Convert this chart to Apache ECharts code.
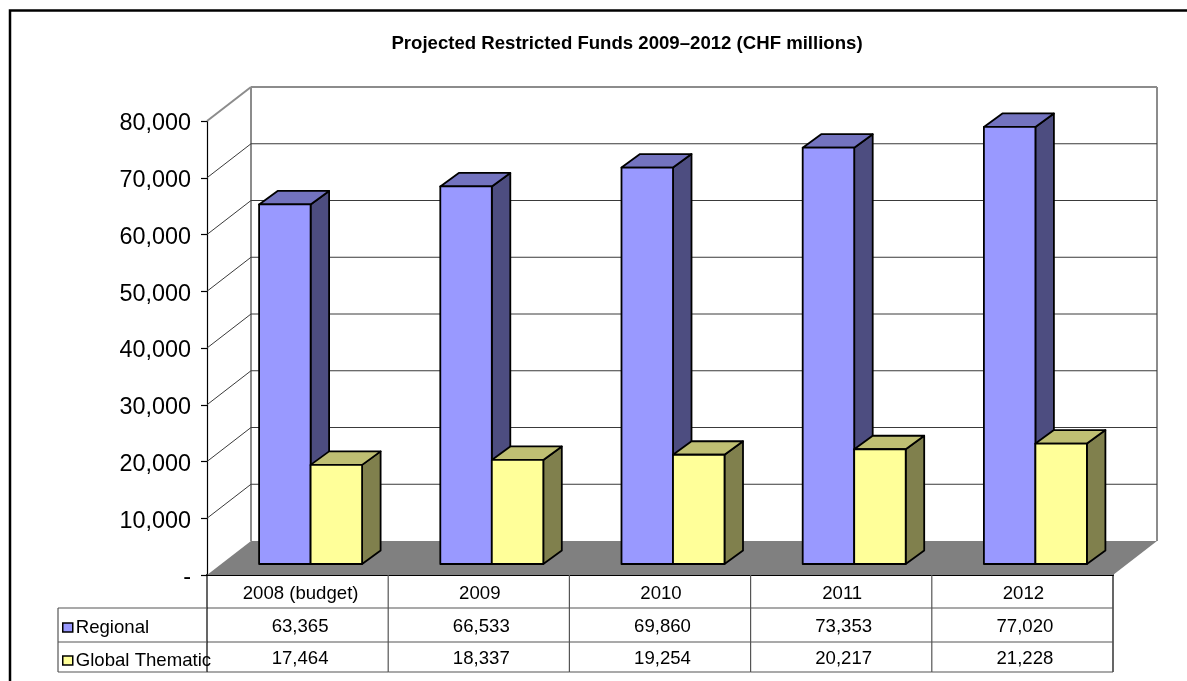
<!DOCTYPE html>
<html>
<head>
<meta charset="utf-8">
<title>Projected Restricted Funds</title>
<style>html,body{margin:0;padding:0;background:#fff}#chart{width:1187px;height:681px}</style>
<script src="https://cdn.jsdelivr.net/npm/echarts@6/dist/echarts.min.js"></script>
</head>
<body>
<div id="chart"></div>
<script>
// Chart data
const categories = ['2008 (budget)', '2009', '2010', '2011', '2012'];
const regional = [63365, 66533, 69860, 73353, 77020];
const globalThematic = [17464, 18337, 19254, 20217, 21228];
const yTicks = [0, 10000, 20000, 30000, 40000, 50000, 60000, 70000, 80000];
const seriesNames = ['Regional', 'Global Thematic'];

// Fake-3D projection settings, in pixels
const WALL_DX = 44, WALL_DY = -34;      // front plane to back wall
const BAR_DX = 13, BAR_DY = -11;        // front plane to bar front face
const BAR_W = 51.5;                     // width of one bar
const DEPTH_DX = 18.5, DEPTH_DY = -13.5; // bar depth
const ROW_Y = [608, 642, 672];          // table row rules
const TABLE_LEFT = 58;
const CELL_NUDGE = 2.5;                 // values sit slightly right of the column centre
const FONT = '"Liberation Sans", Arial, sans-serif';
const fmt = v => v.toLocaleString('en-US');

// Walls, floor and gridlines: one item per tick
function renderWall(params, api) {
  const v = api.value(0);
  const left = api.coord([0, v]);
  left[0] -= api.size([1, 0])[0] / 2;
  const w = api.size([1, 0])[0] * categories.length;
  const gridStyle = { stroke: '#3a3a3a', lineWidth: 1, fill: null };
  const frameStyle = { stroke: '#8c8c8c', lineWidth: 2, fill: null };
  const isTop = v === yTicks[yTicks.length - 1];
  const children = [];
  if (v === 0) {
    children.push({ type: 'polygon', shape: { points: [
      left, [left[0] + w, left[1]],
      [left[0] + w + WALL_DX, left[1] + WALL_DY], [left[0] + WALL_DX, left[1] + WALL_DY]
    ] }, style: { fill: '#808080', stroke: null } });
    const top = api.coord([0, yTicks[yTicks.length - 1]])[1] + WALL_DY;
    [0, w].forEach(off => children.push({ type: 'line', shape: {
      x1: left[0] + WALL_DX + off, y1: left[1] + WALL_DY, x2: left[0] + WALL_DX + off, y2: top
    }, style: frameStyle }));
  } else {
    children.push({ type: 'line', shape: {
      x1: left[0], y1: left[1], x2: left[0] + WALL_DX, y2: left[1] + WALL_DY
    }, style: isTop ? frameStyle : gridStyle });
    children.push({ type: 'line', shape: {
      x1: left[0] + WALL_DX, y1: left[1] + WALL_DY, x2: left[0] + WALL_DX + w, y2: left[1] + WALL_DY
    }, style: isTop ? frameStyle : gridStyle });
  }
  return { type: 'group', children };
}

// Extruded bar: front, top and side faces
function barRenderer(slot, front, top, side) {
  return function (params, api) {
    const c = api.coord([api.value(0), api.value(1)]);
    const base = api.coord([api.value(0), 0]);
    const x0 = c[0] + BAR_DX + slot * BAR_W;
    const x1 = x0 + BAR_W;
    const yT = c[1] + BAR_DY;
    const yB = base[1] + BAR_DY;
    const line = { stroke: '#000', lineWidth: 1.8, lineJoin: 'round' };
    return { type: 'group', children: [
      { type: 'polygon', shape: { points: [[x1, yT], [x1 + DEPTH_DX, yT + DEPTH_DY], [x1 + DEPTH_DX, yB + DEPTH_DY], [x1, yB]] },
        style: Object.assign({ fill: side }, line) },
      { type: 'polygon', shape: { points: [[x0, yT], [x0 + DEPTH_DX, yT + DEPTH_DY], [x1 + DEPTH_DX, yT + DEPTH_DY], [x1, yT]] },
        style: Object.assign({ fill: top }, line) },
      { type: 'rect', shape: { x: x0, y: yT, width: BAR_W, height: yB - yT },
        style: Object.assign({ fill: front }, line) }
    ] };
  };
}

// Data table beneath the plot: one column per category
function renderTable(params, api) {
  const i = api.value(0);
  const c = api.coord([i, 0]);
  const w = api.size([1, 0])[0];
  const rule = { stroke: '#555', lineWidth: 1.2 };
  const black = { stroke: '#000', lineWidth: 1.2 };
  const right = c[0] + w / 2;
  const left = c[0] - w / 2;
  const children = [
    { type: 'line', shape: { x1: right, y1: c[1], x2: right, y2: ROW_Y[2] }, style: i === categories.length - 1 ? black : rule }
  ];
  ROW_Y.forEach(y => children.push({ type: 'line', shape: { x1: left, y1: y, x2: right, y2: y }, style: rule }));
  if (i === 0) {
    children.push({ type: 'line', shape: { x1: left, y1: c[1], x2: left, y2: ROW_Y[2] }, style: black });
    children.push({ type: 'line', shape: { x1: TABLE_LEFT, y1: ROW_Y[0], x2: TABLE_LEFT, y2: ROW_Y[2] }, style: rule });
    ROW_Y.forEach(y => children.push({ type: 'line', shape: { x1: TABLE_LEFT, y1: y, x2: left, y2: y }, style: rule }));
  }
  [regional[i], globalThematic[i]].forEach((v, r) => {
    children.push({ type: 'text', style: {
      x: c[0] + CELL_NUDGE, y: (ROW_Y[r] + ROW_Y[r + 1]) / 2 + 2, text: fmt(v), fill: '#000',
      font: '18.6px ' + FONT, textAlign: 'center', textVerticalAlign: 'middle'
    } });
  });
  return { type: 'group', children };
}

const chart = echarts.init(document.getElementById('chart'), null, { renderer: 'canvas' });
chart.setOption({
  animation: false,
  backgroundColor: '#fff',
  title: {
    text: 'Projected Restricted Funds 2009\u20132012 (CHF millions)',
    left: 622, top: 29, textAlign: 'center',
    textStyle: { fontFamily: FONT, fontSize: 18.6, fontWeight: 'bold', color: '#000' }
  },
  legend: {
    orient: 'vertical', left: 57, top: 613, itemGap: 14, itemWidth: 10, itemHeight: 9,
    selectedMode: false,
    textStyle: { fontFamily: FONT, fontSize: 18.6, color: '#000', padding: [0, 0, 0, -2] },
    data: [
      { name: seriesNames[0], icon: 'rect', itemStyle: { color: '#9999FF', borderColor: '#000', borderWidth: 1.5 } },
      { name: seriesNames[1], icon: 'rect', itemStyle: { color: '#FFFF99', borderColor: '#000', borderWidth: 1.5 } }
    ]
  },
  grid: { left: 207, right: 74, top: 121, bottom: 106, containLabel: false },
  xAxis: {
    type: 'category',
    // the wide first header sits a little further right of its column centre
    data: categories.map((c, i) => ({ value: c, textStyle: { padding: [0, 0, 0, i === 0 ? 6 : 2] } })),
    axisLine: { lineStyle: { color: '#000', width: 2 } },
    axisTick: { show: false },
    axisLabel: { color: '#000', fontFamily: FONT, fontSize: 18.6, margin: 9, interval: 0 }
  },
  yAxis: {
    type: 'value', min: 0, max: 80000, interval: 10000,
    axisLine: { show: true, lineStyle: { color: '#000', width: 1.2 } },
    axisTick: { show: true, length: 6, lineStyle: { color: '#000', width: 1.2 } },
    splitLine: { show: false },
    axisLabel: {
      color: '#000', fontFamily: FONT, fontSize: 23.4, margin: 16,
      verticalAlign: 'top', lineHeight: 6,
      formatter: v => v === 0 ? '-' : fmt(v)
    }
  },
  series: [
    { type: 'custom', name: 'walls', silent: true, z: 1, clip: false,
      coordinateSystem: 'cartesian2d', encode: { x: 1, y: 0 },
      data: yTicks.map(v => [v, 0]), renderItem: renderWall },
    { type: 'custom', name: seriesNames[0], silent: true, z: 3, clip: false,
      encode: { x: 0, y: 1 },
      data: regional.map((v, i) => [i, v]),
      itemStyle: { color: '#9999FF' },
      renderItem: barRenderer(-1, '#9999FF', '#7373BF', '#4D4D80') },
    { type: 'custom', name: seriesNames[1], silent: true, z: 4, clip: false,
      encode: { x: 0, y: 1 },
      data: globalThematic.map((v, i) => [i, v]),
      itemStyle: { color: '#FFFF99' },
      renderItem: barRenderer(0, '#FFFF99', '#BFBF73', '#80804D') },
    { type: 'custom', name: 'table', silent: true, z: 2, clip: false,
      encode: { x: 0, y: 1 },
      data: categories.map((c, i) => [i, 0]), renderItem: renderTable }
  ],
  graphic: [
    // page frame: runs along the top and down the left edge only
    { type: 'polyline', shape: { points: [[10, 681], [10, 10.5], [1187, 10.5]] },
      style: { stroke: '#000', lineWidth: 2.5, fill: null } }
  ]
});
</script>
</body>
</html>
